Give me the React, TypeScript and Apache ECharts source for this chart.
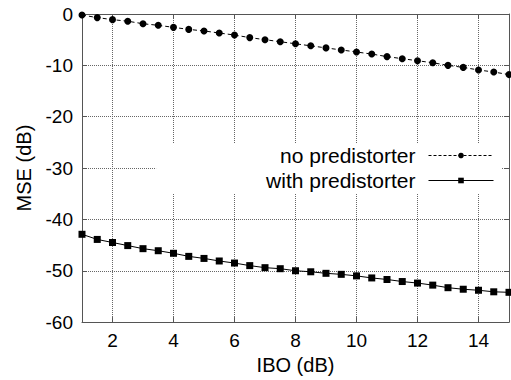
import React, { useEffect, useRef } from "react";
import * as echarts from "echarts";

const ibo = [1, 1.5, 2, 2.5, 3, 3.5, 4, 4.5, 5, 5.5, 6, 6.5, 7, 7.5, 8, 8.5, 9, 9.5, 10, 10.5, 11, 11.5, 12, 12.5, 13, 13.5, 14, 14.5, 15];
const noPredistorter = [-0.2, -0.7, -1.1, -1.4, -1.9, -2.2, -2.6, -3.0, -3.3, -3.7, -4.1, -4.6, -5.0, -5.4, -5.8, -6.2, -6.6, -7.0, -7.4, -7.8, -8.3, -8.7, -9.1, -9.5, -10.0, -10.4, -10.9, -11.3, -11.8];
const withPredistorter = [-42.9, -43.9, -44.5, -45.1, -45.7, -46.1, -46.6, -47.2, -47.6, -48.1, -48.5, -49.0, -49.4, -49.6, -50.0, -50.2, -50.5, -50.7, -51.0, -51.4, -51.7, -52.1, -52.4, -52.8, -53.3, -53.6, -53.8, -54.1, -54.2];
const seriesNames = ["no predistorter", "with predistorter"];
const xTitle = "IBO (dB)";
const yTitle = "MSE (dB)";

const FONT = "'Liberation Sans', Arial, sans-serif";
const AXIS_COLOR = "#555";

export default function App() {
  const ref = useRef<HTMLDivElement>(null);
  useEffect(() => {
    if (!ref.current) return;
    const chart = echarts.init(ref.current, undefined, { renderer: "svg" });
    const tickInside = { show: true, inside: true, length: 5, lineStyle: { color: AXIS_COLOR } };
    const tickLbl = { color: "#000", fontSize: 19, fontFamily: FONT };
    const nameLbl = { color: "#000", fontSize: 20, fontFamily: FONT };
    chart.setOption({
      animation: false,
      backgroundColor: "#fff",
      grid: { left: 82, right: 2, top: 14, bottom: 56, show: false },
      legend: {
        right: 9,
        top: 143,
        orient: "vertical",
        align: "right",
        backgroundColor: "#fff",
        padding: [2, 8, 2, 110],
        itemWidth: 65,
        itemHeight: 7,
        itemGap: 4,
        textStyle: { fontSize: 21, fontFamily: FONT, color: "#000", padding: [0, 8, 0, 0] },
        data: [
          { name: seriesNames[0], lineStyle: { width: 1, color: "#000", type: [3, 2] } },
          { name: seriesNames[1], lineStyle: { width: 1, color: "#000", type: "solid" } },
        ],
      },
      xAxis: [
        {
          type: "value",
          min: 1,
          max: 15,
          splitNumber: 7,
          name: xTitle,
          nameLocation: "middle",
          nameGap: 30,
          nameTextStyle: nameLbl,
          axisLine: { show: true, onZero: false, lineStyle: { color: AXIS_COLOR, width: 1 } },
          axisTick: tickInside,
          axisLabel: { ...tickLbl, margin: 9, showMinLabel: false, showMaxLabel: false },
          splitLine: { show: true, lineStyle: { type: "dotted", color: "#666", width: 1 } },
        },
        {
          type: "value",
          position: "top",
          min: 1,
          max: 15,
          splitNumber: 7,
          axisLine: { show: true, onZero: false, lineStyle: { color: AXIS_COLOR, width: 1 } },
          axisTick: tickInside,
          axisLabel: { show: false },
          splitLine: { show: false },
        },
      ],
      yAxis: [
        {
          type: "value",
          min: -60,
          max: 0,
          interval: 10,
          name: yTitle,
          nameLocation: "middle",
          nameGap: 48,
          nameTextStyle: nameLbl,
          axisLine: { show: true, onZero: false, lineStyle: { color: AXIS_COLOR, width: 1 } },
          axisTick: tickInside,
          axisLabel: { ...tickLbl, margin: 9 },
          splitLine: { show: true, lineStyle: { type: "dotted", color: "#666", width: 1 } },
        },
        {
          type: "value",
          position: "right",
          min: -60,
          max: 0,
          interval: 10,
          axisLine: { show: true, onZero: false, lineStyle: { color: AXIS_COLOR, width: 1 } },
          axisTick: tickInside,
          axisLabel: { show: false },
          splitLine: { show: false },
        },
      ],
      series: [
        {
          name: seriesNames[0],
          type: "line",
          data: ibo.map((x, i) => [x, noPredistorter[i]]),
          symbol: "circle",
          symbolSize: 7,
          itemStyle: { color: "#000" },
          lineStyle: { color: "#000", width: 1, type: [4, 3] },
          z: 3,
        },
        {
          name: seriesNames[1],
          type: "line",
          data: ibo.map((x, i) => [x, withPredistorter[i]]),
          symbol: "rect",
          symbolSize: 7,
          itemStyle: { color: "#000" },
          lineStyle: { color: "#000", width: 1, type: "solid" },
          z: 3,
        },
      ],
    });
    return () => chart.dispose();
  }, []);
  return <div ref={ref} style={{ position: "fixed", left: 0, top: 0, width: 511, height: 380 }} />;
}
